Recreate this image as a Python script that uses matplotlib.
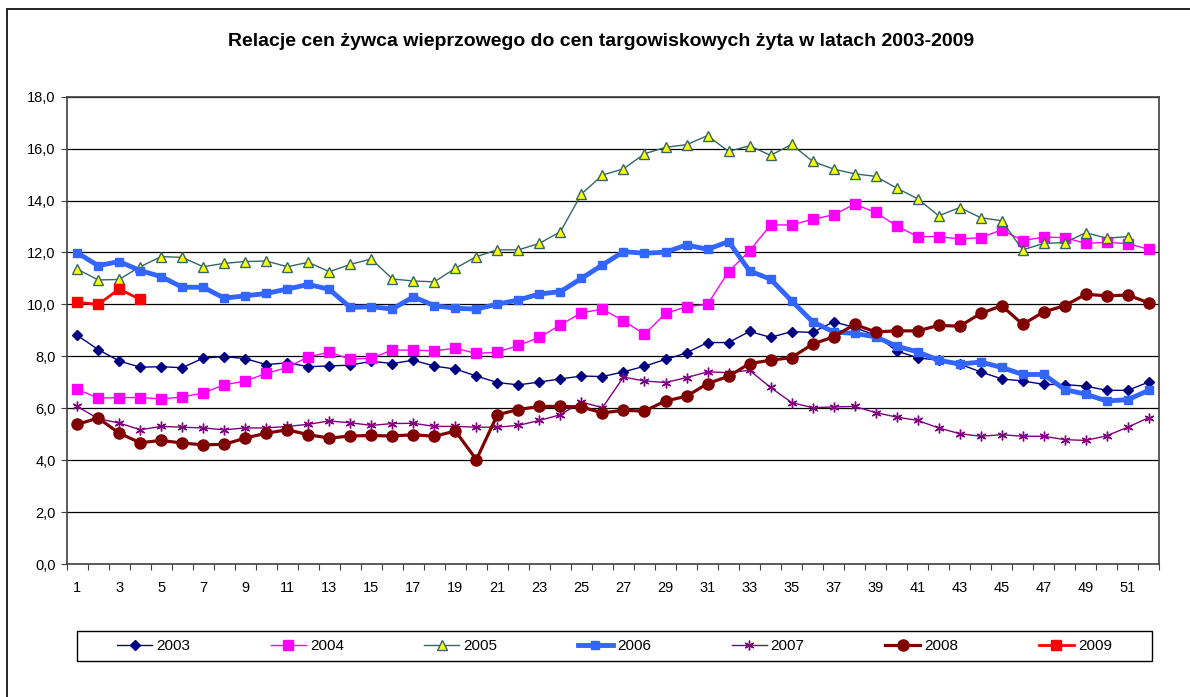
import numpy as np
import matplotlib
matplotlib.use("Agg")
import matplotlib.pyplot as plt
from matplotlib.patches import Rectangle

plt.rcParams['font.family'] = ['Liberation Sans', 'DejaVu Sans']

weeks = np.arange(1, 53)

v2003 = [8.81, 8.26, 7.82, 7.58, 7.60, 7.56, 7.93, 7.99, 7.91, 7.68, 7.75, 7.60, 7.63, 7.66, 7.81, 7.72, 7.85, 7.62,
         7.51, 7.24, 6.99, 6.90, 7.01, 7.13, 7.24, 7.22, 7.40, 7.62, 7.88, 8.13, 8.53, 8.53, 8.96, 8.73, 8.95,
         8.92, 9.33, 9.11, 8.81, 8.21, 7.94, 7.85, 7.70, 7.40, 7.13, 7.05, 6.92, 6.91, 6.85, 6.69, 6.69, 7.01]
v2004 = [6.73, 6.39, 6.41, 6.41, 6.36, 6.43, 6.59, 6.90, 7.05, 7.34, 7.57, 7.98, 8.16, 7.89, 7.93, 8.24, 8.24, 8.21,
         8.31, 8.11, 8.16, 8.42, 8.73, 9.21, 9.68, 9.81, 9.37, 8.85, 9.65, 9.91, 10.00, 11.26, 12.06, 13.06,
         13.06, 13.28, 13.45, 13.86, 13.54, 13.02, 12.61, 12.61, 12.52, 12.57, 12.87, 12.46, 12.59, 12.57, 12.35,
         12.39, 12.34, 12.12]
v2005 = [11.36, 10.94, 10.96, 11.45, 11.84, 11.81, 11.45, 11.58, 11.65, 11.67, 11.45, 11.62, 11.26, 11.54, 11.75,
         10.98, 10.90, 10.87, 11.39, 11.84, 12.10, 12.10, 12.35, 12.80, 14.25, 14.98, 15.22, 15.80, 16.05, 16.15,
         16.50, 15.89, 16.11, 15.74, 16.16, 15.51, 15.21, 15.03, 14.93, 14.48, 14.07, 13.41, 13.73, 13.34, 13.22,
         12.10, 12.35, 12.38, 12.76, 12.55, 12.61, np.nan]
v2006 = [11.99, 11.49, 11.65, 11.30, 11.07, 10.66, 10.66, 10.24, 10.33, 10.42, 10.59, 10.77, 10.58, 9.88, 9.91,
         9.82, 10.29, 9.95, 9.85, 9.82, 10.01, 10.17, 10.40, 10.49, 11.00, 11.52, 12.03, 11.97, 12.01, 12.29,
         12.12, 12.42, 11.29, 10.97, 10.14, 9.33, 8.94, 8.88, 8.75, 8.39, 8.17, 7.85, 7.70, 7.78, 7.57, 7.30,
         7.30, 6.72, 6.54, 6.28, 6.33, 6.69]
v2007 = [6.07, 5.60, 5.43, 5.17, 5.30, 5.27, 5.24, 5.17, 5.24, 5.24, 5.30, 5.38, 5.51, 5.44, 5.34, 5.41, 5.42, 5.30,
         5.30, 5.27, 5.27, 5.34, 5.53, 5.75, 6.24, 6.02, 7.20, 7.05, 6.99, 7.18, 7.40, 7.37, 7.46, 6.80, 6.22,
         6.02, 6.05, 6.07, 5.83, 5.66, 5.53, 5.24, 5.02, 4.92, 4.98, 4.92, 4.92, 4.79, 4.76, 4.94, 5.27, 5.64]
v2008 = [5.38, 5.62, 5.04, 4.67, 4.76, 4.66, 4.59, 4.61, 4.85, 5.04, 5.17, 4.98, 4.85, 4.93, 4.95, 4.93, 4.98, 4.92,
         5.12, 4.02, 5.75, 5.95, 6.07, 6.07, 6.05, 5.82, 5.92, 5.89, 6.28, 6.46, 6.95, 7.23, 7.72, 7.85, 7.95,
         8.47, 8.75, 9.23, 8.94, 8.98, 8.98, 9.19, 9.16, 9.65, 9.95, 9.23, 9.71, 9.95, 10.39, 10.33, 10.36, 10.06]
v2009 = [10.08, 10.00, 10.59, 10.19]

y_ticks = [0, 2, 4, 6, 8, 10, 12, 14, 16, 18]
y_labels = ['0,0', '2,0', '4,0', '6,0', '8,0', '10,0', '12,0', '14,0', '16,0', '18,0']

fig = plt.figure(figsize=(11.9, 6.97), dpi=100)
ax = fig.add_axes([0.056, 0.1908, 0.9182, 0.6705])

# outer chart frame (cut off at right and bottom like the original)
fig.patches.append(Rectangle((7 / 1190, -0.05), 1.2, 1 - 9 / 697 + 0.05, transform=fig.transFigure,
                             fill=False, edgecolor='black', linewidth=1.2))

ax.plot(weeks, v2003, color='#000080', lw=1, marker='D', ms=5, mfc='#000080', mec='#000080', label='2003')
ax.plot(weeks, v2004, color='#FF00FF', lw=1, marker='s', ms=6.5, mfc='#FF00FF', mec='#FF00FF', label='2004')
ax.plot(weeks, v2005, color='#336666', lw=1, marker='^', ms=7, mfc='#FFFF00', mec='#336666', mew=1, label='2005')
ax.plot(weeks, v2006, color='#3366FF', lw=3.5, marker='s', ms=6, mfc='#3366FF', mec='#3366FF', label='2006')
ax.plot(weeks, v2007, color='#800080', lw=1, marker=(6, 2, 0), ms=7, mec='#800080', mew=1, label='2007')
ax.plot(weeks, v2008, color='#800000', lw=2.3, marker='o', ms=8, mfc='#800000', mec='#800000', label='2008')
ax.plot(weeks[:len(v2009)], v2009, color='#FF0000', lw=2, marker='s', ms=7, mfc='#FF0000', mec='#FF0000', label='2009')

ax.set_xlim(0.5, 52.5)
ax.set_ylim(0, 18)
ax.set_yticks(y_ticks)
ax.set_yticklabels(y_labels)
for y in y_ticks[1:]:
    ax.axhline(y, color='black', lw=0.9, zorder=0)

ax.set_xticks(np.arange(0.5, 53, 1))
ax.set_xticklabels([])
ax.set_xticks(weeks[::2], minor=True)
ax.set_xticklabels([str(w) for w in weeks[::2]], minor=True)
ax.tick_params(axis='x', which='major', length=4, direction='out', color='#404040')
ax.tick_params(axis='x', which='minor', length=0, pad=12, labelsize=10.5)
ax.tick_params(axis='y', length=4, direction='out', color='#404040', labelsize=10.5, pad=4)

for s in ax.spines.values():
    s.set_color('#404040')
    s.set_linewidth(1.2)

fig.text(601 / 1190, 1 - 42 / 697, 'Relacje cen żywca wieprzowego do cen targowiskowych żyta w latach 2003-2009',
         ha='center', va='center', fontsize=14, fontweight='bold')

# legend box drawn separately, entries centred inside it
fig.patches.append(Rectangle((76.7 / 1190, 1 - 661 / 697), (1152 - 76.7) / 1190, 30 / 697,
                             transform=fig.transFigure, fill=False, edgecolor='black', linewidth=1.0))
fig.legend(loc='center', ncol=7, bbox_to_anchor=(614.4 / 1190, 1 - 646 / 697), fontsize=11,
           frameon=False, handlelength=2.3, handletextpad=0.26, columnspacing=5.27, borderpad=0)

fig.savefig('out.png', dpi=100)
